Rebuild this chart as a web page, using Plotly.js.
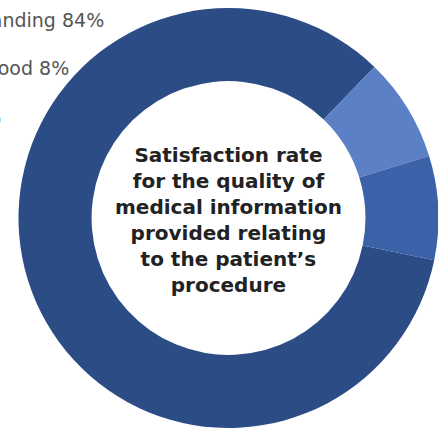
<!DOCTYPE html>
<html>
<head>
<meta charset="utf-8">
<script src="https://cdn.plot.ly/plotly-3.0.1.min.js"></script>
<style>
html,body{margin:0;padding:0;overflow:hidden;background:#fff;width:438px;height:430px;}
#chart{width:458px;height:436px;}
</style>
</head>
<body>
<div id="chart"></div>
<script>
const categories = ["Outstanding", "Good", "Average"];
const values = [84, 8, 8];
const sliceColors = ["#2b4c85", "#5c80c6", "#3b61a9"];
const centerLines = ["Satisfaction rate", "for the quality of", "medical information", "provided relating", "to the patient\u2019s", "procedure"];

const W = 458, H = 436;
const cx = 228.5, cy = 218, R = 210;
const px = x => x / W;
const py = y => 1 - y / H;

const labelPos = [[106, 20], [71, 68], [3, 117]];
const annotations = categories.map((c, i) => ({
  text: c + " " + values[i] + "%",
  xref: "paper", yref: "paper",
  x: px(labelPos[i][0]), y: py(labelPos[i][1]),
  xanchor: "right", yanchor: "middle",
  showarrow: false,
  font: {family: "'DejaVu Sans', sans-serif", size: 19, color: "#555555"}
}));
annotations.push({
  text: "<b>" + centerLines.join("<br>") + "</b>",
  xref: "paper", yref: "paper",
  x: px(cx), y: py(cy + 2),
  xanchor: "center", yanchor: "middle",
  showarrow: false, align: "center",
  font: {family: "'DejaVu Sans', sans-serif", size: 20, color: "#222222"}
});

const data = [{
  type: "pie",
  labels: categories,
  values: values,
  hole: 0.652,
  sort: false,
  direction: "clockwise",
  rotation: 101.6,
  marker: {colors: sliceColors, line: {width: 0}},
  textinfo: "none",
  hoverinfo: "label+percent",
  domain: {x: [px(cx - R), px(cx + R)], y: [py(cy + R), py(cy - R)]}
}];

const layout = {
  width: W, height: H,
  margin: {l: 0, r: 0, t: 0, b: 0},
  showlegend: false,
  paper_bgcolor: "#ffffff",
  annotations: annotations
};

Plotly.newPlot("chart", data, layout, {displayModeBar: false, staticPlot: true});
</script>
</body>
</html>
